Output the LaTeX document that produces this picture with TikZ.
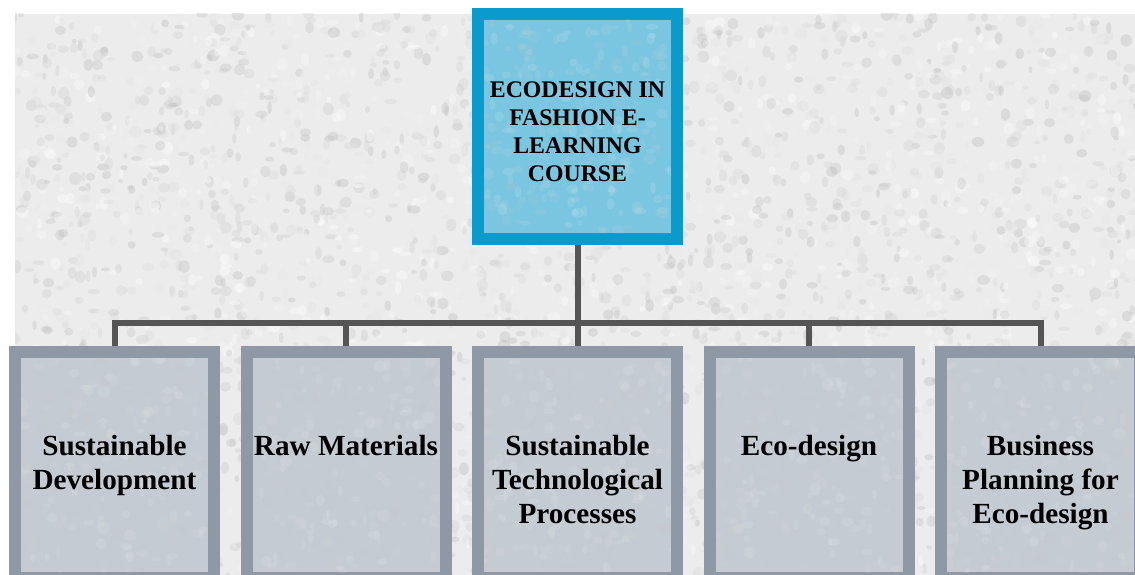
\documentclass[tikz,border=0pt]{standalone}
\usepackage{fontspec}
\setmainfont{Liberation Serif}
\definecolor{bgbase}{HTML}{ECECEC}
\definecolor{topedge}{HTML}{0A9ACB}
\definecolor{topfill}{HTML}{7AC6E0}
\definecolor{subedge}{HTML}{8E99A5}
\definecolor{subfill}{HTML}{C4CBD2}
\definecolor{wire}{HTML}{555555}
% random soft grain inside the rectangle (#1,#2)-(#3,#4): #5 blobs, #6 max shade
\newcommand\grainfill[6]{%
  \foreach \i in {1,...,#5}{%
    \pgfmathsetmacro\px{(#1)+((#3)-(#1))*rnd}%
    \pgfmathsetmacro\py{(#2)+((#4)-(#2))*rnd}%
    \pgfmathsetmacro\rx{2+4.5*rnd}%
    \pgfmathsetmacro\ry{2+4.5*rnd}%
    \pgfmathtruncatemacro\sh{(#6)*rnd}%
    \fill[black!\sh] (\px,\py) ellipse [x radius=\rx, y radius=\ry];
  }%
}
\begin{document}
\begin{tikzpicture}[x=1pt,y=-1pt,
  topbox/.style={draw=topedge, fill=topfill, line width=12pt,
    minimum width=199pt, minimum height=225pt, inner sep=0pt},
  subbox/.style={draw=subedge, fill=subfill, line width=12pt,
    minimum width=199pt, minimum height=226pt, inner sep=0pt},
  toptext/.style={font=\fontsize{23.8}{28}\selectfont\bfseries,
    align=center, inner sep=0pt, anchor=north},
  subtext/.style={font=\fontsize{29.2}{34}\selectfont\bfseries,
    align=center, inner sep=0pt, anchor=north},
  wireline/.style={draw=wire, line width=6pt}]
\useasboundingbox (0,0) rectangle (1135,575);
\clip (0,0) rectangle (1135,575);
\fill[white] (0,0) rectangle (1135,575);
\pgfmathsetseed{11}

% granite-like backdrop
\fill[bgbase] (15,14) rectangle (1135,575);
\begin{scope}[fill opacity=0.4]
  \clip (15,14) rectangle (1135,575);
  \grainfill{15}{14}{1140}{579}{4000}{26}
\end{scope}

% boxes
\node[topbox] (course) at (577.5,126.5) {};
\node[subbox] (m1) at (114.5,465) {};
\node[subbox] (m2) at (346,465) {};
\node[subbox] (m3) at (577.5,465) {};
\node[subbox] (m4) at (809,465) {};
\node[subbox] (m5) at (1040.5,465) {};

% faint grain on the box faces (centre x, centre y, inner half width, inner half height)
\foreach \cx/\cy/\hw/\hh in {577.5/126.5/93.5/106.5, 114.5/465/93.5/107,
    346/465/93.5/107, 577.5/465/93.5/107, 809/465/93.5/107, 1040.5/465/93.5/107}{
  \begin{scope}[fill opacity=0.12]
    \clip (\cx-\hw,\cy-\hh) rectangle (\cx+\hw,\cy+\hh);
    \grainfill{\cx-\hw}{\cy-\hh}{\cx+\hw}{\cy+\hh}{200}{24}
  \end{scope}
}

% connectors
\coordinate (bus) at (577.5,323);
\draw[wireline] (course.south) -- (course.south |- bus);
\draw[wireline] (m1.north) -- (m1.north |- bus) -| (m5.north);
\draw[wireline] (m2.north) -- (m2.north |- bus);
\draw[wireline] (m3.north) -- (m3.north |- bus);
\draw[wireline] (m4.north) -- (m4.north |- bus);

% labels
\node[toptext] (coursetext) at (577.5,77.4)
  {\strut ECODESIGN IN\\FASHION E-\\LEARNING\\COURSE};
\node[subtext] (t1) at (114.5,431.2) {\strut Sustainable\\Development};
\node[subtext] (t2) at (346,431.2) {\strut Raw Materials};
\node[subtext] (t3) at (577.5,431.2) {\strut Sustainable\\Technological\\Processes};
\node[subtext] (t4) at (809,431.2) {\strut Eco-design};
\node[subtext] (t5) at (1040.5,431.2) {\strut Business\\Planning for\\Eco-design};
\end{tikzpicture}
\end{document}
